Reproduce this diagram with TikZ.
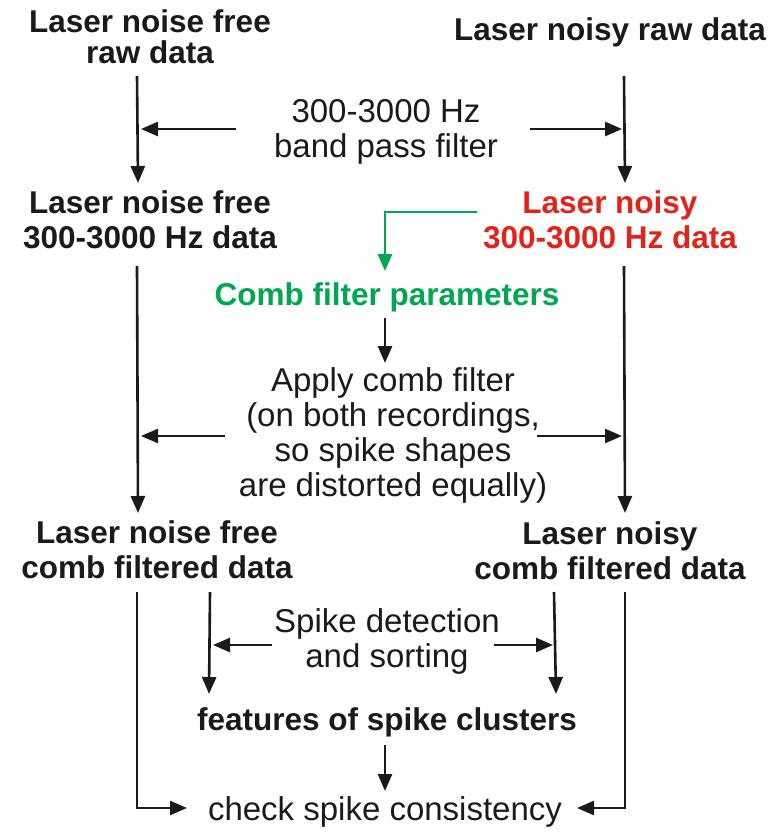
\documentclass[tikz,border=0pt]{standalone}
\usepackage{fontspec}
\setmainfont{Liberation Sans}
\usetikzlibrary{arrows.meta}
\definecolor{ink}{RGB}{26,26,26}
\definecolor{rd}{RGB}{226,35,26}
\definecolor{gr}{RGB}{0,166,81}
\tikzset{
  hd/.style={align=center,inner sep=0pt,font=\bfseries\fontsize{31.5}{35}\selectfont,text=ink},
  tx/.style={align=center,inner sep=0pt,font=\fontsize{33}{35}\selectfont,text=ink},
  arr/.style={draw=ink,line width=2.6pt,-{Triangle[length=17pt,width=14pt]}},
}
\begin{document}
\begin{tikzpicture}[x=1pt,y=-1pt]
\useasboundingbox (0,0) rectangle (769,832);
% nodes
\node[hd] (n1) at (150,37) {Laser noise free\\[-4pt]raw data};
\node[hd] (n2) at (610,32) {Laser noisy raw data};
\node[tx] (bp) at (386,132) {300-3000 Hz\\band pass filter};
\node[hd] (n3) at (150,220) {Laser noise free\\300-3000 Hz data};
\node[hd,text=rd] (n4) at (610,220) {Laser noisy\\300-3000 Hz data};
\node[hd,text=gr] (cp) at (387,297) {Comb filter parameters};
\node[tx] (ac) at (393,435) {Apply comb filter\\(on both recordings,\\so spike shapes\\are distorted equally)};
\node[hd] (n5) at (157,550) {Laser noise free\\comb filtered data};
\node[hd] (n6) at (610,551) {Laser noisy\\comb filtered data};
\node[tx] (sd) at (387,641) {Spike detection\\and sorting};
\node[hd] (fs) at (387,722) {features of spike clusters};
\node[tx] (cc) at (385,812) {check spike consistency};
% coordinates
\coordinate (a1) at (137,76);  \coordinate (a2) at (138,183);
\coordinate (b1) at (624,76);  \coordinate (b2) at (625,183);
\coordinate (c1) at (137,266); \coordinate (c2) at (138,513);
\coordinate (d1) at (624,266); \coordinate (d2) at (625,513);
\coordinate (e1) at (137,592); \coordinate (e2) at (137,808);
\coordinate (f1) at (210,592); \coordinate (f2) at (209,694);
\coordinate (g1) at (554,592); \coordinate (g2) at (556,694);
\coordinate (h1) at (625,592); \coordinate (h2) at (625,808);
\coordinate (bpl) at (236,129); \coordinate (bpr) at (530,129);
\coordinate (acl) at (225,436); \coordinate (acr) at (537,436);
\coordinate (sdl) at (272,645); \coordinate (sdr) at (494,645);
\coordinate (gs) at (477,212); \coordinate (gm) at (385,212); \coordinate (ge) at (385,271);
% verticals
\draw[arr] (a1) -- (a2);
\draw[arr] (b1) -- (b2);
\draw[arr] (c1) -- (c2);
\draw[arr] (d1) -- (d2);
\draw[arr] (f1) -- (f2);
\draw[arr] (g1) -- (g2);
% side arrows
\draw[arr] (bpl) -- (141,129);
\draw[arr] (bpr) -- (622,129);
\draw[arr] (acl) -- (141,436);
\draw[arr] (acr) -- (622,436);
\draw[arr] (sdl) -- (213,645);
\draw[arr] (sdr) -- (553,645);
% green
\draw[arr,draw=gr] (gs) -- (gm) -- (ge);
% center arrows
\draw[arr] (385,318) -- (385,363);
\draw[arr] (385,745) -- (385,791);
% bottom bends
\draw[arr] (e1) -- (e2) -- (187,808);
\draw[arr] (h1) -- (h2) -- (577,808);
\end{tikzpicture}
\end{document}
